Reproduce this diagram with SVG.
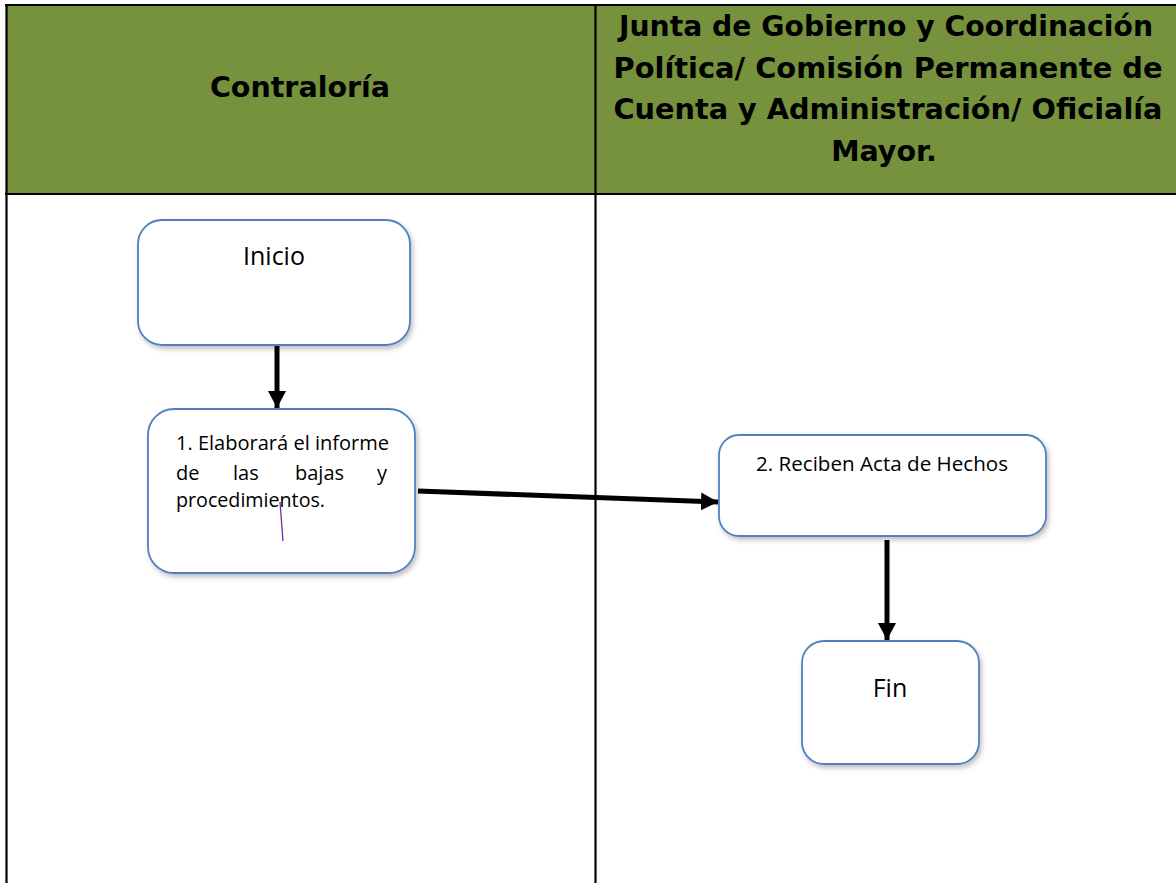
<svg xmlns="http://www.w3.org/2000/svg" width="1176" height="883" viewBox="0 0 1176 883">
  <style>
    .grid { stroke: #000; stroke-width: 2.2; fill: none; }
    .hdr { font-family: "DejaVu Sans", Verdana, sans-serif; font-weight: bold; font-size: 28.5px; fill: #000; text-anchor: middle; }
    .box { fill: #fff; stroke: #4F81BD; stroke-width: 1.8; filter: url(#shadow); }
    .lbl { font-family: "Open Sans", "Noto Sans", sans-serif; fill: #000; }
    .big { font-size: 25px; text-anchor: middle; }
    .small { font-size: 20px; }
    .conn { stroke: #000; stroke-width: 5; fill: none; marker-end: url(#arrow); }
  </style>
  <defs>
    <filter id="shadow" x="-10%" y="-10%" width="125%" height="130%">
      <feDropShadow dx="2" dy="3" stdDeviation="2.5" flood-color="#000" flood-opacity="0.25"/>
    </filter>
    <marker id="arrow" markerUnits="userSpaceOnUse" markerWidth="18" markerHeight="18" refX="17" refY="9" orient="auto">
      <path d="M0,0 L17,9 L0,18 Z" fill="#000"/>
    </marker>
  </defs>

  <rect width="1176" height="883" fill="#fff"/>

  <g id="header">
    <rect x="6" y="5" width="1172" height="189" fill="#76923C"/>
    <text class="hdr" x="300" y="97">Contraloría</text>
    <text class="hdr" x="886" y="36" textLength="534" lengthAdjust="spacingAndGlyphs">Junta de Gobierno y Coordinación</text>
    <text class="hdr" x="888" y="78" textLength="549" lengthAdjust="spacingAndGlyphs">Política/ Comisión Permanente de</text>
    <text class="hdr" x="888" y="119" textLength="549" lengthAdjust="spacingAndGlyphs">Cuenta y Administración/ Oficialía</text>
    <text class="hdr" x="884" y="161">Mayor.</text>
  </g>

  <g id="table-lines">
    <line class="grid" x1="5" y1="5" x2="1178" y2="5"/>
    <line class="grid" x1="5" y1="194" x2="1178" y2="194"/>
    <line class="grid" x1="6.5" y1="4" x2="6.5" y2="883"/>
    <line class="grid" x1="595.5" y1="4" x2="595.5" y2="883"/>
  </g>

  <g id="connectors">
    <line class="conn" x1="277" y1="346" x2="277" y2="408"/>
    <line class="conn" x1="418" y1="491" x2="718" y2="502"/>
    <line class="conn" x1="887" y1="540" x2="887" y2="640"/>
  </g>

  <g id="node-inicio">
    <rect class="box" x="138" y="220" width="272" height="125" rx="24" ry="24"/>
    <text class="lbl big" x="274" y="265">Inicio</text>
  </g>

  <g id="node-1">
    <rect class="box" x="148" y="409" width="267" height="164" rx="26" ry="26"/>
    <text class="lbl small" x="176" y="450" textLength="213" lengthAdjust="spacingAndGlyphs">1. Elaborará el informe</text>
    <text class="lbl small" y="480"><tspan x="176">de</tspan><tspan x="233">las</tspan><tspan x="295">bajas</tspan><tspan x="377">y</tspan></text>
    <text class="lbl small" x="176" y="507" textLength="149" lengthAdjust="spacingAndGlyphs">procedimientos.</text>
    <line x1="280" y1="502" x2="283" y2="541" stroke="#7030A0" stroke-width="1.3"/>
  </g>

  <g id="node-2">
    <rect class="box" x="719" y="435" width="327" height="101" rx="20" ry="20"/>
    <text class="lbl small" x="756" y="471" textLength="252" lengthAdjust="spacingAndGlyphs">2. Reciben Acta de Hechos</text>
  </g>

  <g id="node-fin">
    <rect class="box" x="802" y="641" width="177" height="123" rx="22" ry="22"/>
    <text class="lbl big" x="890" y="697">Fin</text>
  </g>
</svg>
